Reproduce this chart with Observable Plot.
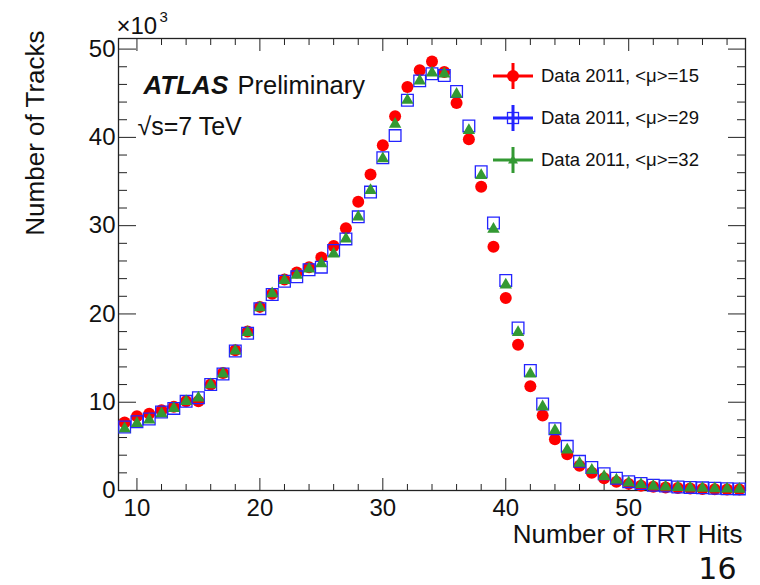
<!DOCTYPE html>
<html>
<head>
<meta charset="utf-8">
<script src="https://cdn.jsdelivr.net/npm/d3@7"></script>
<script src="https://cdn.jsdelivr.net/npm/@observablehq/plot@0.6"></script>
<style>
  body { margin: 0; background: #fff; }
  #wrap { position: relative; width: 760px; height: 585px; font-family: "Liberation Sans", Arial, Helvetica, sans-serif; }
  .leg { position: absolute; left: 491px; height: 30px; display: flex; align-items: center; white-space: nowrap; }
  .leg svg { display: block; margin-right: 6px; }
  .leg span { font-size: 18.5px; color: #111; }
</style>
</head>
<body>
<div id="wrap"></div>
<script>
// ---- data (Number of tracks, in units of 10^3) ----
const trtHits = [9,10,11,12,13,14,15,16,17,18,19,20,21,22,23,24,25,26,27,28,29,30,31,32,33,34,35,36,37,38,39,40,41,42,43,44,45,46,47,48,49,50,51,52,53,54,55,56,57,58,59];
const mu15 = [7.7,8.4,8.7,9.1,9.5,10.1,10.1,12.0,13.3,15.9,18.0,20.8,22.3,23.9,24.7,25.3,26.4,27.7,29.7,32.7,35.8,39.1,42.4,45.7,47.6,48.6,47.4,43.9,39.8,34.4,27.6,21.8,16.5,11.8,8.5,5.8,4.1,2.8,2.0,1.4,1.0,0.75,0.55,0.42,0.33,0.27,0.22,0.18,0.15,0.12,0.10];
const mu29 = [7.2,7.8,8.1,8.9,9.3,10.1,10.5,12.0,13.2,15.8,17.8,20.6,22.2,23.7,24.2,25.0,25.3,27.2,28.5,31.0,33.8,37.7,40.2,44.2,46.4,47.2,47.0,45.2,41.3,36.1,30.3,23.8,18.4,13.6,9.8,7.0,5.0,3.3,2.6,1.9,1.4,1.0,0.8,0.6,0.5,0.4,0.35,0.3,0.25,0.2,0.18];
const mu32 = [7.0,7.6,8.0,8.7,9.3,10.1,10.5,12.0,13.2,15.8,17.9,20.7,22.3,23.8,24.4,25.1,25.7,26.8,28.5,31.0,34.0,37.6,41.5,44.2,46.4,47.3,47.2,44.9,40.8,35.7,29.6,23.3,17.9,13.2,9.5,6.8,4.6,3.1,2.3,1.6,1.2,0.9,0.7,0.5,0.4,0.35,0.3,0.25,0.2,0.17,0.15];

const xMajorTicks = [10,20,30,40,50];
const xMinorTicks = [12,14,16,18,22,24,26,28,32,34,36,38,42,44,46,48,52,54,56,58];
const yMajorTicks = [0,10,20,30,40,50];
const yMinorTicks = [2,4,6,8,12,14,16,18,22,24,26,28,32,34,36,38,42,44,46,48];

const legendLabels = ["Data 2011, <μ>=15", "Data 2011, <μ>=29", "Data 2011, <μ>=32"];
const seriesColors = ["#ff0000", "#2323ff", "#339933"];

const rows = trtHits.map((h, i) => ({hits: h, mu15: mu15[i], mu29: mu29[i], mu32: mu32[i]}));

const blank = () => "";
const plot = Plot.plot({
  width: 760,
  height: 585,
  marginLeft: 118,
  marginRight: 15,
  marginTop: 38,
  marginBottom: 95,
  x: {domain: [8.5, 59.5]},
  y: {domain: [0, 51.2]},
  style: {fontFamily: "'Liberation Sans', Arial, Helvetica, sans-serif", background: "white", color: "#111", overflow: "visible"},
  marks: [
    // axes (ticks inward, ROOT style)
    Plot.axisX(xMajorTicks, {anchor: "bottom", tickSize: -12, tickPadding: 20, fontSize: 24, label: null, stroke: "#222"}),
    Plot.axisX(xMinorTicks, {anchor: "bottom", tickSize: -6, tickFormat: blank, label: null, stroke: "#222"}),
    Plot.axisX(xMajorTicks, {anchor: "top", tickSize: -12, tickFormat: blank, label: null, stroke: "#222"}),
    Plot.axisX(xMinorTicks, {anchor: "top", tickSize: -6, tickFormat: blank, label: null, stroke: "#222"}),
    Plot.axisY(yMajorTicks, {anchor: "left", tickSize: -18, tickPadding: 21, fontSize: 24, label: null, stroke: "#222"}),
    Plot.axisY(yMinorTicks, {anchor: "left", tickSize: -9, tickFormat: blank, label: null, stroke: "#222"}),
    Plot.axisY(yMajorTicks, {anchor: "right", tickSize: -18, tickFormat: blank, label: null, stroke: "#222"}),
    Plot.axisY(yMinorTicks, {anchor: "right", tickSize: -9, tickFormat: blank, label: null, stroke: "#222"}),
    Plot.frame({stroke: "#222", strokeWidth: 1.3}),
    // data
    Plot.dot(rows, {x: "hits", y: "mu15", r: 6, symbol: "circle", fill: seriesColors[0]}),
    Plot.dot(rows, {x: "hits", y: "mu29", r: 6.6, symbol: "square", fill: "none", stroke: seriesColors[1], strokeWidth: 1.3}),
    Plot.dot(rows, {x: "hits", y: "mu32", r: 4.6, symbol: "triangle", fill: seriesColors[2]}),
    // annotations
    Plot.text(["×10"], {text: d => d, frameAnchor: "top-left", dx: -2, dy: -5, textAnchor: "start", lineAnchor: "bottom", fontSize: 24}),
    Plot.text(["3"], {text: d => d, frameAnchor: "top-left", dx: 41, dy: -17, textAnchor: "start", lineAnchor: "bottom", fontSize: 15}),
    Plot.text(["ATLAS"], {text: d => d, frameAnchor: "top-left", dx: 25, dy: 55, textAnchor: "start", lineAnchor: "bottom", fontSize: 26, fontWeight: "bold", fontStyle: "italic"}),
    Plot.text(["Preliminary"], {text: d => d, frameAnchor: "top-left", dx: 119, dy: 55, textAnchor: "start", lineAnchor: "bottom", fontSize: 25.5}),
    Plot.text(["√s=7 TeV"], {text: d => d, frameAnchor: "top-left", dx: 19, dy: 96, textAnchor: "start", lineAnchor: "bottom", fontSize: 25}),
    Plot.text(["Number of Tracks"], {text: d => d, frameAnchor: "top-left", dx: -83, dy: -8, rotate: -90, textAnchor: "end", lineAnchor: "middle", fontSize: 26}),
    Plot.text(["Number of TRT Hits"], {text: d => d, frameAnchor: "bottom-right", dx: -3, dy: 52, textAnchor: "end", lineAnchor: "bottom", fontSize: 26}),
    Plot.text(["16"], {text: d => d, frameAnchor: "bottom-right", dx: -9, dy: 88, textAnchor: "end", lineAnchor: "bottom", fontSize: 30, fontFamily: "'DejaVu Sans', sans-serif"})
  ]
});

const wrap = document.getElementById("wrap");
wrap.appendChild(plot);

// legend overlay
const legTops = [61, 103, 145];
legendLabels.forEach((lab, i) => {
  const row = document.createElement("div");
  row.className = "leg";
  row.style.top = legTops[i] + "px";
  const color = seriesColors[i];
  let marker = "";
  if (i === 0) marker = `<circle cx="22" cy="15" r="6" fill="${color}"/>`;
  if (i === 1) marker = `<rect x="16.5" y="9.5" width="11" height="11" fill="none" stroke="${color}" stroke-width="1.3"/>`;
  if (i === 2) marker = `<path d="M22,10 L27,18.5 L17,18.5 Z" fill="${color}"/>`;
  row.innerHTML = `<svg width="44" height="30" viewBox="0 0 44 30">
      <line x1="2" y1="15" x2="42" y2="15" stroke="${color}" stroke-width="3"/>
      <line x1="22" y1="2" x2="22" y2="28" stroke="${color}" stroke-width="3"/>
      ${marker}
    </svg><span></span>`;
  row.querySelector("span").textContent = lab;
  wrap.appendChild(row);
});
</script>
</body>
</html>
